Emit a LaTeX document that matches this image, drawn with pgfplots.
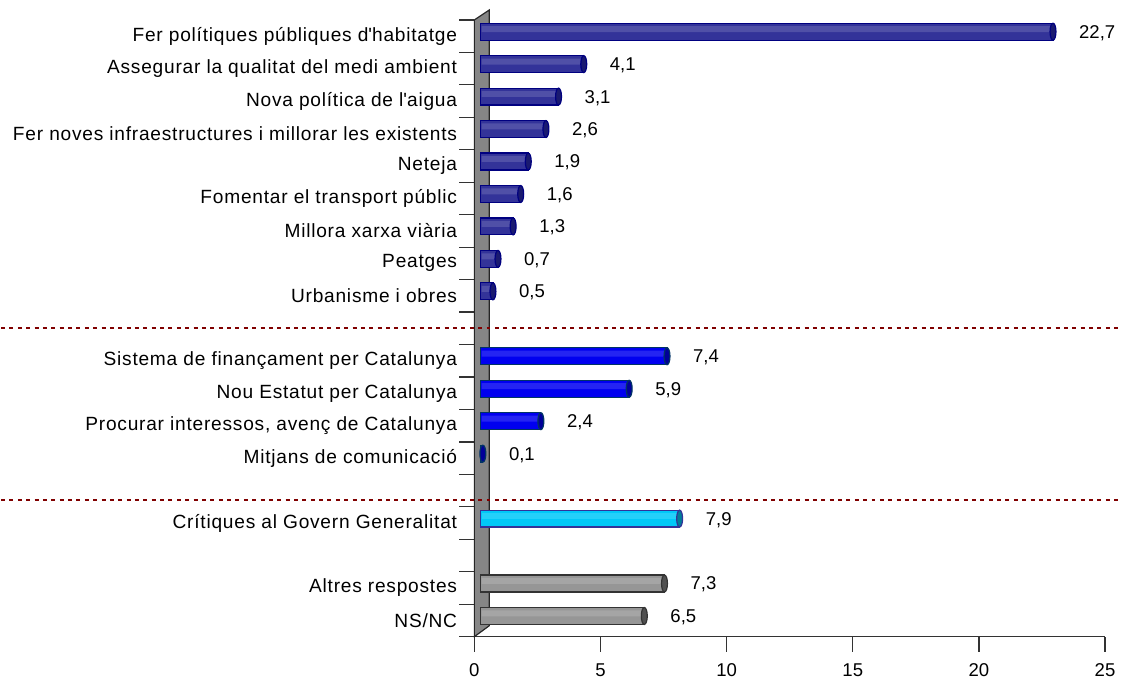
\documentclass[border=0pt]{standalone}
\usepackage{pgfplots}
\pgfplotsset{compat=1.18}
\usepackage{pgfplotstable}
\usepackage{fontspec}
\setmainfont{Liberation Sans}
\newfontfamily\labfont[LetterSpace=4]{Liberation Sans}
\definecolor{navyF}{HTML}{333399}
\definecolor{navyE}{HTML}{000080}
\definecolor{navyC}{HTML}{1A1A70}
\definecolor{blueF}{HTML}{0000F0}
\definecolor{blueE}{HTML}{003366}
\definecolor{blueC}{HTML}{000099}
\definecolor{cyanF}{HTML}{00C8F8}
\definecolor{cyanE}{HTML}{333399}
\definecolor{cyanC}{HTML}{007C98}
\definecolor{greyF}{HTML}{969696}
\definecolor{greyE}{HTML}{333333}
\definecolor{greyC}{HTML}{505050}
\definecolor{dotred}{HTML}{800000}
\definecolor{wallF}{HTML}{868686}

\pgfplotstableread{
y v
19 22.7
18 4.1
17 3.1
16 2.6
15 1.9
14 1.6
13 1.3
12 0.7
11 0.5
}\navy
\pgfplotstableread{
y v
9 7.4
8 5.9
7 2.4
6 0.1
}\blues
\pgfplotstableread{
y v
4 7.9
}\cyans
\pgfplotstableread{
y v
2 7.3
1 6.5
}\greys

\newcommand{\fsz}{\fontsize{9.3}{11}\selectfont}
\newcommand{\lsz}{\labfont\fontsize{9.6}{11}\selectfont}

\pgfplotsset{
  barst/.style 2 args={xbar, bar width=8.5pt, bar shift=0pt, xshift=3pt, yshift=2.25pt,
     draw=#2, line width=0.6pt, fill=#1},
  hlst/.style={xbar, bar width=3pt, bar shift=1.3pt, xshift=3.6pt, yshift=2.25pt,
     draw=none, fill=#1!86!white},
  capst/.style 2 args={only marks, xshift=3pt, yshift=2.25pt, mark=*, mark size=4.25pt,
     mark options={xscale=0.35, fill=#1, draw=#2, line width=0.6pt},
     point meta=x,
     nodes near coords={\pgfmathprintnumber[fixed, fixed zerofill, precision=1, use comma]{\pgfplotspointmeta}},
     nodes near coords style={anchor=west, xshift=9.5pt, yshift=-0.6pt, font=\fsz, text=black}},
}

\begin{document}
\begin{tikzpicture}
\begin{axis}[
  scale only axis,
  width=316.5pt, height=309.5pt,
  xmin=0, xmax=25, ymin=0.5, ymax=19.5,
  clip=false,
  axis x line*=bottom, axis y line*=left,
  axis line style={black!80, line width=0.6pt},
  /pgf/number format/assume math mode=true,
  xtick={0,5,10,15,20,25},
  ytick={1,...,19},
  yticklabels={NS/NC, Altres respostes, {}, Crítiques al Govern Generalitat, {},
    Mitjans de comunicació, {Procurar interessos, avenç de Catalunya}, Nou Estatut per Catalunya,
    Sistema de finançament per Catalunya, {}, Urbanisme i obres, Peatges, Millora xarxa viària,
    Fomentar el transport públic, Neteja, Fer noves infraestructures i millorar les existents,
    Nova política de l\textquotesingle aigua, Assegurar la qualitat del medi ambient, Fer polítiques públiques d\textquotesingle habitatge},
  minor ytick={0.5,1.5,...,19.5},
  tick align=outside,
  major tick length=7.5pt, minor tick length=7.5pt,
  major y tick style={draw=none},
  tick style={black!80, line width=0.6pt},
  yticklabel style={font=\lsz, inner sep=1pt},
  xticklabel style={font=\fsz, yshift=-2.5pt},
]
% bounding box of the whole picture
\path ([shift={(-237.5pt,319.5pt)}]rel axis cs:0,0) rectangle ([shift={(323.5pt,-21pt)}]rel axis cs:0,0);
% side wall
\filldraw[fill=wallF, draw=black!85, line width=0.6pt] (axis cs:0,0.5) -- (axis cs:0,19.5) -- ([shift={(7.5pt,5pt)}]axis cs:0,19.5) -- ([shift={(7.5pt,5.5pt)}]axis cs:0,0.5) -- cycle;
% separators
\draw[dotred, line width=1.1pt, dash pattern=on 2pt off 2.2pt] ([xshift=-237.5pt]axis cs:0,10) -- ([xshift=7pt]axis cs:25,10);
\draw[dotred, line width=1.1pt, dash pattern=on 2pt off 2.2pt] ([xshift=-237.5pt]axis cs:0,4.7) -- ([xshift=7pt]axis cs:25,4.7);

\addplot[barst={navyF}{navyE}] table[x=v,y=y]{\navy};
\addplot[hlst=navyF] table[x=v,y=y]{\navy};
\addplot[capst={navyC}{navyE}] table[x=v,y=y]{\navy};
\addplot[barst={blueF}{blueE}] table[x=v,y=y]{\blues};
\addplot[hlst=blueF] table[x=v,y=y]{\blues};
\addplot[capst={blueC}{blueE}] table[x=v,y=y]{\blues};
\addplot[barst={cyanF}{cyanE}] table[x=v,y=y]{\cyans};
\addplot[hlst=cyanF] table[x=v,y=y]{\cyans};
\addplot[capst={cyanC}{cyanE}] table[x=v,y=y]{\cyans};
\addplot[barst={greyF}{greyE}] table[x=v,y=y]{\greys};
\addplot[hlst=greyF] table[x=v,y=y]{\greys};
\addplot[capst={greyC}{greyE}] table[x=v,y=y]{\greys};
\end{axis}
\end{tikzpicture}
\end{document}
